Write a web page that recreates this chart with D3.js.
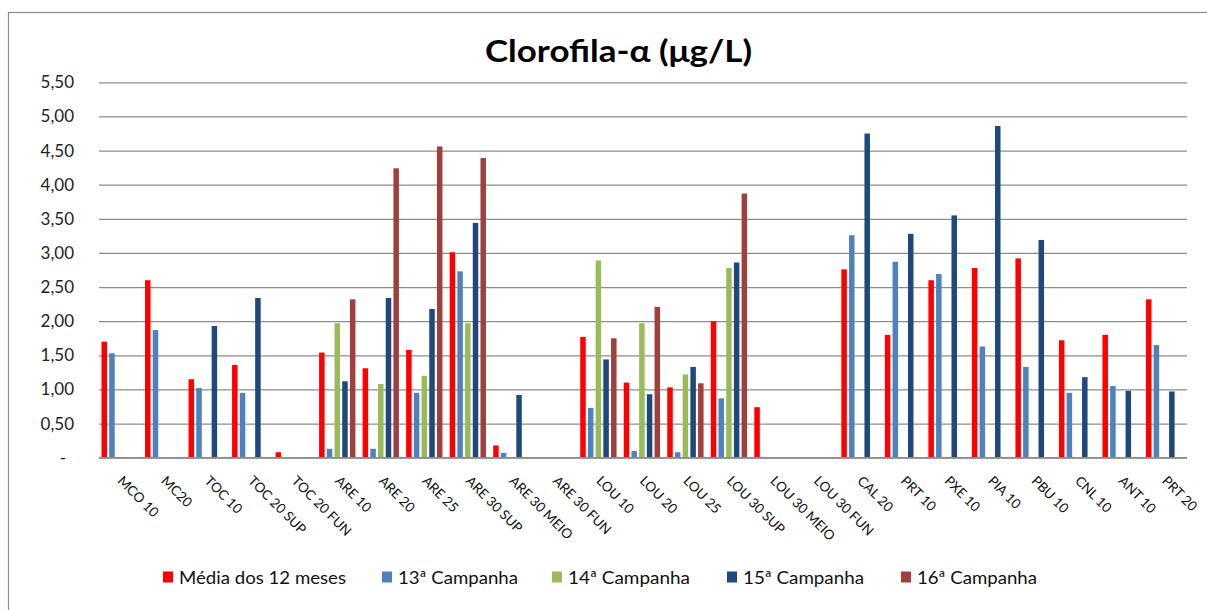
<!DOCTYPE html>
<html>
<head>
<meta charset="utf-8">
<script src="https://cdn.jsdelivr.net/npm/d3@7"></script>
<style>
  html, body { margin: 0; padding: 0; background: #fff; overflow: hidden; }
  svg { display: block; }
</style>
</head>
<body>
<svg id="chart" width="1207" height="610"></svg>
<script>
const title = "Clorofila-\u03B1 (\u03BCg/L)";
const categories = ["MCO 10","MC20","TOC 10","TOC 20 SUP","TOC 20 FUN","ARE 10","ARE 20","ARE 25","ARE 30 SUP","ARE 30 MEIO","ARE 30 FUN","LOU 10","LOU 20","LOU 25","LOU 30 SUP","LOU 30 MEIO","LOU 30 FUN","CAL  20","PRT 10","PXE 10","PIA 10","PBU 10","CNL 10","ANT 10","PRT 20"];
const seriesNames = ["Média dos 12 meses","13ª Campanha","14ª Campanha","15ª Campanha","16ª Campanha"];
const seriesColors = ["#FF0000","#4F81BD","#9BBB59","#1F497D","#A0403E"];
const media = [1.70,2.60,1.15,1.36,0.08,1.54,1.31,1.58,3.01,0.18,null,1.77,1.10,1.03,2.00,0.74,null,2.76,1.80,2.60,2.78,2.92,1.72,1.80,2.32];
const camp13 = [1.53,1.87,1.02,0.95,null,0.13,0.13,0.95,2.73,0.07,null,0.73,0.10,0.08,0.87,null,null,3.26,2.87,2.69,1.63,1.33,0.95,1.05,1.65];
const camp14 = [null,null,null,null,null,1.97,1.08,1.20,1.97,null,null,2.89,1.97,1.22,2.78,null,null,null,null,null,null,null,null,null,null];
const camp15 = [null,null,1.93,2.34,null,1.12,2.34,2.18,3.44,0.92,null,1.44,0.93,1.33,2.86,null,null,4.75,3.28,3.55,4.86,3.19,1.18,0.98,0.97];
const camp16 = [null,null,null,null,null,2.32,4.24,4.56,4.39,null,null,1.75,2.21,1.09,3.87,null,null,null,null,null,null,null,null,null,null];
const yTicks = [0,0.5,1,1.5,2,2.5,3,3.5,4,4.5,5,5.5];

const seriesValues = [media, camp13, camp14, camp15, camp16];

const svg = d3.select("#chart");
const font = "Lato, 'Open Sans', sans-serif";

// outer frame (only top/left edges visible)
svg.append("rect").attr("x", 8.5).attr("y", 12.5).attr("width", 1400).attr("height", 800)
  .attr("fill", "none").attr("stroke", "#8a8a8a").attr("stroke-width", 1.2);

const plot = {left: 99, right: 1187, top: 82.3, bottom: 457.7};

const x0 = d3.scaleBand().domain(categories).range([plot.left, plot.right])
  .paddingInner(0.115).paddingOuter(0.0575);
const x1 = d3.scaleBand().domain(d3.range(seriesNames.length)).range([0, x0.bandwidth()]);
const y = d3.scaleLinear().domain([0, 5.5]).range([plot.bottom, plot.top]);

// title
svg.append("text").attr("x", 618.5).attr("y", 62).attr("text-anchor", "middle")
  .attr("font-family", font).attr("font-weight", "bold").attr("font-size", 31)
  .attr("textLength", 267).attr("lengthAdjust", "spacingAndGlyphs")
  .attr("fill", "#000").text(title);

// gridlines + y axis
const fmt = v => v === 0 ? "-" : d3.format(".2f")(v).replace(".", ",");
const yAxis = d3.axisLeft(y).tickValues(yTicks).tickFormat(fmt)
  .tickSize(-(plot.right - plot.left)).tickPadding(25);
const gy = svg.append("g").attr("transform", `translate(${plot.left},0)`).call(yAxis);
gy.select(".domain").remove();
gy.selectAll(".tick line").attr("stroke", "#8c8c8c").attr("stroke-width", 1.2);
gy.selectAll(".tick text").attr("font-family", font).attr("font-size", 17).attr("fill", "#222")
  .attr("x", d => d === 0 ? -33 : -25);

// bars
const data = [];
categories.forEach((c, i) => {
  seriesValues.forEach((arr, s) => {
    if (arr[i] != null) data.push({cat: c, s: s, v: arr[i]});
  });
});
svg.append("g").selectAll("rect").data(data).join("rect")
  .attr("x", d => x0(d.cat) + x1(d.s))
  .attr("width", x1.bandwidth() - 2.2)
  .attr("y", d => y(d.v))
  .attr("height", d => y(0) - y(d.v))
  .attr("fill", d => seriesColors[d.s]);

// baseline
svg.append("line").attr("x1", plot.left).attr("x2", plot.right)
  .attr("y1", y(0)).attr("y2", y(0)).attr("stroke", "#8c8c8c").attr("stroke-width", 1.4);

// x labels
const xAxis = d3.axisBottom(x0).tickSize(0).tickPadding(0);
const gx = svg.append("g").attr("transform", `translate(0,${plot.bottom})`).call(xAxis);
gx.select(".domain").remove();
gx.selectAll(".tick text")
  .attr("font-family", font).attr("font-size", 13.5).attr("fill", "#111")
  .attr("text-anchor", "start").attr("dy", null).attr("y", null)
  .attr("transform", "translate(-4,24) rotate(45)");

// legend
const legendX = [0, 219, 389, 564, 738];
const legendW = [167, 120, 122, 121, 120];
const legend = svg.append("g").attr("transform", "translate(163,577)");
seriesNames.forEach((name, i) => {
  const g = legend.append("g").attr("transform", `translate(${legendX[i]},0)`);
  g.append("rect").attr("x", 0).attr("y", -5.5).attr("width", 10).attr("height", 11)
    .attr("fill", seriesColors[i]);
  g.append("text").attr("x", 16).attr("y", 6.5).attr("font-family", font)
    .attr("font-size", 18).attr("fill", "#111")
    .attr("textLength", legendW[i]).attr("lengthAdjust", "spacingAndGlyphs").text(name);
});
</script>
</body>
</html>
